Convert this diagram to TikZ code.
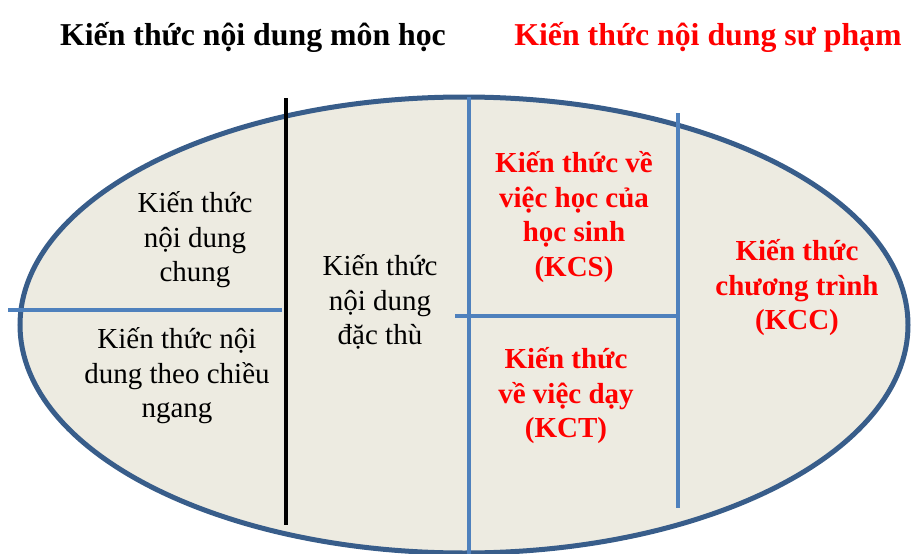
\documentclass[tikz,border=0pt]{standalone}
\usepackage{fontspec}
\setmainfont{Liberation Serif}
\definecolor{ellfill}{RGB}{237,235,225}
\definecolor{ellline}{RGB}{56,93,138}
\definecolor{divline}{RGB}{79,129,189}
\definecolor{redtxt}{RGB}{255,0,0}
\begin{document}
\begin{tikzpicture}[x=1pt,y=-1pt,
  titletxt/.style={font=\fontsize{31.8}{36}\selectfont\bfseries, anchor=center, inner sep=0pt},
  bodytxt/.style={font=\fontsize{29}{34.5}\selectfont, align=center, inner sep=0pt},
  redbody/.style={bodytxt, font=\fontsize{29}{34.5}\selectfont\bfseries, text=redtxt},
  divider/.style={draw=divline, line width=3.5pt},
  blackdiv/.style={draw=black, line width=3.5pt}]
\useasboundingbox (0,0) rectangle (911,554);
\begin{scope}
\clip (0,0) rectangle (911,554);
\draw[fill=ellfill, draw=ellline, line width=5pt] (464,325) ellipse [x radius=444, y radius=228];
\end{scope}
% dividers
\coordinate (h1a) at (8,310);   \coordinate (h1b) at (282,310);
\coordinate (v1a) at (286,98);  \coordinate (v1b) at (286,525);
\coordinate (v2a) at (469,97);  \coordinate (v2b) at (469,556);
\coordinate (h2a) at (455,316); \coordinate (h2b) at (679,316);
\coordinate (v3a) at (678,113); \coordinate (v3b) at (678,508);
\draw[divider] (h1a) -- (h1b);
\draw[blackdiv] (v1a) -- (v1b);
\draw[divider] (v2a) -- (v2b);
\draw[divider] (h2a) -- (h2b);
\draw[divider] (v3a) -- (v3b);
% titles
\node[titletxt] (t1) at (253,37) {Kiến thức nội dung môn học};
\node[titletxt, text=redtxt] (t2) at (708,37) {Kiến thức nội dung sư phạm};
% body
\node[bodytxt] (a) at (195,240) {Kiến thức\\nội dung\\chung};
\node[bodytxt] (b) at (177,376) {Kiến thức nội\\dung theo chiều\\ngang};
\node[bodytxt] (c) at (380,302) {Kiến thức\\nội dung\\đặc thù};
\node[redbody] (d) at (574,217) {Kiến thức về\\việc học của\\học sinh\\(KCS)};
\node[redbody] (e) at (566,396) {Kiến thức\\về việc dạy\\(KCT)};
\node[redbody] (f) at (797,288) {Kiến thức\\chương trình\\(KCC)};
\end{tikzpicture}
\end{document}
